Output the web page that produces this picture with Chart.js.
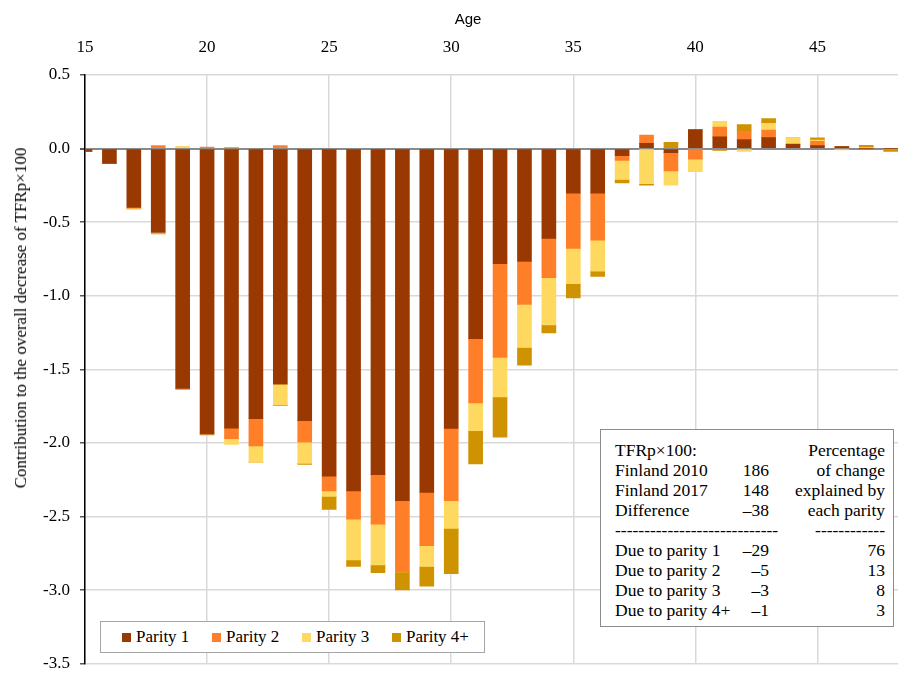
<!DOCTYPE html>
<html>
<head>
<meta charset="utf-8">
<script src="https://cdn.jsdelivr.net/npm/chart.js@4"></script>
<style>
  html, body { margin: 0; padding: 0; background: #fff; }
  #wrap { position: relative; width: 900px; height: 684px; overflow: hidden; }
  canvas { position: absolute; left: 0; top: 0; }
  .serif { font-family: "Liberation Serif", "Times New Roman", serif; color: #000; }
  #ytitle { position: absolute; left: 21px; top: 318px; transform: translate(-50%, -50%) rotate(-90deg); white-space: nowrap; font-size: 17px; font-family: "Liberation Serif", serif; }
  #xtitle { position: absolute; left: 468px; top: 18px; transform: translate(-50%, -50%); font-family: "Liberation Sans", Arial, sans-serif; font-size: 15px; color: #000; white-space: nowrap; }
  #legend { position: absolute; left: 100px; top: 621px; width: 383px; height: 30px; border: 1px solid #a6a6a6; background: #fff; font-size: 17px; }
  .litem { position: absolute; top: 0; height: 30px; line-height: 30px; white-space: nowrap; }
  .lsw { position: absolute; top: 11px; width: 9px; height: 9px; }
  #note { position: absolute; left: 600px; top: 429px; width: 292px; height: 196px; border: 1px solid #8c8c8c; background: #fff; font-size: 17.5px; }
  .c { position: absolute; white-space: nowrap; line-height: 20px; }
</style>
</head>
<body>
<div id="wrap">
  <canvas id="chart" width="900" height="684"></canvas>
  <div id="xtitle">Age</div>
  <div id="ytitle" class="serif">Contribution to the overall decrease of TFRp×100</div>
  <div id="legend" class="serif"></div>
  <div id="note" class="serif"></div>
</div>
<script>
// ---- data ----
const ages = [15,16,17,18,19,20,21,22,23,24,25,26,27,28,29,30,31,32,33,34,35,36,37,38,39,40,41,42,43,44,45,46,47,48];
const parity1 = [-0.02,-0.10,-0.40,-0.57,-1.63,-1.94,-1.90,-1.835,-1.60,-1.848,-2.226,-2.326,-2.215,-2.392,-2.335,-1.901,-1.291,-0.782,-0.767,-0.61,-0.302,-0.302,-0.048,0.035,-0.027,0.13,0.08,0.062,0.075,0.029,0.02,0.013,0,0];
const parity2 = [0,0,-0.005,0.02,-0.005,0.01,-0.07,-0.185,0.02,-0.146,-0.10,-0.192,-0.336,-0.484,-0.362,-0.491,-0.436,-0.637,-0.292,-0.267,-0.376,-0.32,-0.032,0.057,-0.124,-0.071,0.066,0.057,0.05,0.004,0.029,0,0,-0.005];
const parity3 = [0,0,-0.005,-0.005,0.015,-0.005,-0.04,-0.11,-0.14,-0.144,-0.037,-0.277,-0.277,0,-0.142,-0.188,-0.19,-0.268,-0.292,-0.321,-0.239,-0.21,-0.13,-0.239,-0.097,-0.086,0.04,-0.02,0.046,0.04,0.009,-0.009,0.004,0];
const parity4 = [0,0,0,-0.005,0,0,0.005,0,-0.005,-0.007,-0.089,-0.044,-0.053,-0.122,-0.133,-0.308,-0.225,-0.274,-0.121,-0.055,-0.097,-0.036,-0.024,-0.009,0.042,0,-0.013,0.044,0.033,0,0.015,0,0.018,-0.015];
const seriesNames = ['Parity 1','Parity 2','Parity 3','Parity 4+'];
const seriesColors = ['#993800','#FF7F29','#FFD95F','#CF9200'];
const xTicks = [15,20,25,30,35,40,45];
const yTicks = [-3.5,-3.0,-2.5,-2.0,-1.5,-1.0,-0.5,0.0,0.5];

// note table
const noteRows = [
  ['TFRp×100:', '', 'Percentage'],
  ['Finland 2010', '186', 'of change'],
  ['Finland 2017', '148', 'explained by'],
  ['Difference', '–38', 'each parity'],
  ['----------------------------', '', '------------'],
  ['Due to parity 1', '–29', '76'],
  ['Due to parity 2', '–5', '13'],
  ['Due to parity 3', '–3', '8'],
  ['Due to parity 4+', '–1', '3']
];

const allSeries = [parity1, parity2, parity3, parity4];
const serif = 'Liberation Serif';

function draw() {
  Chart.defaults.font.family = serif;
  Chart.defaults.font.size = 17;
  Chart.defaults.color = '#000';
  const datasets = allSeries.map((vals, i) => ({
    label: seriesNames[i],
    data: ages.map((a, j) => ({ x: a, y: vals[j] })),
    backgroundColor: seriesColors[i],
    borderWidth: 0,
    barThickness: 14,
    clip: 0
  }));

  new Chart(document.getElementById('chart'), {
    type: 'bar',
    data: { datasets },
    options: {
      responsive: false,
      animation: false,
      layout: { padding: { left: 0, right: 2, top: 0, bottom: 6 } },
      plugins: { legend: { display: false }, tooltip: { enabled: false } },
      scales: {
        x: {
          type: 'linear',
          position: 'top',
          stacked: true,
          offset: false,
          min: 15,
          max: 48.3,
          afterFit: s => { s.height = 75; },
          afterBuildTicks: s => { s.ticks = xTicks.map(v => ({ value: v })); },
          ticks: { font: { family: serif, size: 17 }, color: '#000', padding: 17, maxRotation: 0 },
          grid: { offset: false, color: '#d9d9d9', lineWidth: 1.5, drawTicks: false },
          border: { display: false }
        },
        y: {
          stacked: true,
          min: -3.5,
          max: 0.5,
          afterFit: s => { s.width = 85; },
          afterBuildTicks: s => { s.ticks = yTicks.map(v => ({ value: v })); },
          ticks: {
            font: { family: serif, size: 17 }, color: '#000', padding: 10,
            callback: v => Number(v).toFixed(1)
          },
          grid: {
            color: c => (c.tick && Math.abs(c.tick.value) < 1e-9) ? '#8a8a8a' : '#d9d9d9',
            lineWidth: c => (c.tick && Math.abs(c.tick.value) < 1e-9) ? 2 : 1.5,
            tickLength: 5,
            tickColor: '#595959'
          },
          border: { display: true, color: '#000', width: 1.5 }
        }
      }
    }
  });
}

// legend
const legend = document.getElementById('legend');
const lx = [21, 111, 201, 291];
seriesNames.forEach((n, i) => {
  const sw = document.createElement('div');
  sw.className = 'lsw';
  sw.style.left = lx[i] + 'px';
  sw.style.background = seriesColors[i];
  legend.appendChild(sw);
  const t = document.createElement('div');
  t.className = 'litem';
  t.style.left = (lx[i] + 14) + 'px';
  t.textContent = n;
  legend.appendChild(t);
});

// note
const note = document.getElementById('note');
noteRows.forEach((r, i) => {
  const top = 10 + i * 20;
  const a = document.createElement('div');
  a.className = 'c'; a.style.left = '14px'; a.style.top = top + 'px'; a.textContent = r[0];
  note.appendChild(a);
  if (r[1]) {
    const b = document.createElement('div');
    b.className = 'c'; b.style.right = (292 - 168) + 'px'; b.style.top = top + 'px'; b.textContent = r[1];
    note.appendChild(b);
  }
  const c = document.createElement('div');
  c.className = 'c'; c.style.right = '8px'; c.style.top = top + 'px'; c.textContent = r[2];
  note.appendChild(c);
});

draw();
</script>
</body>
</html>
